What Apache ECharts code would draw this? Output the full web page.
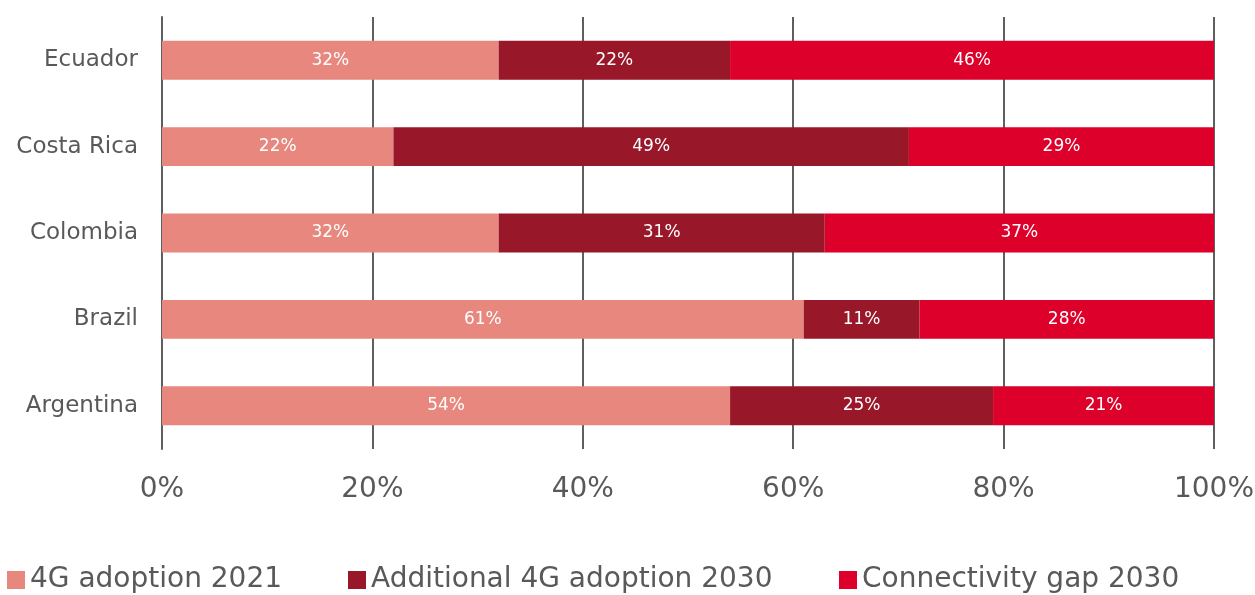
<!DOCTYPE html>
<html>
<head>
<meta charset="utf-8">
<script src="https://cdn.jsdelivr.net/npm/echarts@6/dist/echarts.min.js"></script>
<style>
  html, body { margin: 0; padding: 0; background: #ffffff; }
  #chart { width: 1255px; height: 595px; }
</style>
</head>
<body>
<div id="chart"></div>
<script>
// Countries, top to bottom
const countries = ['Ecuador', 'Costa Rica', 'Colombia', 'Brazil', 'Argentina'];
// Shares of population (%)
const adoption2021 = [32, 22, 32, 61, 54];
const additional2030 = [22, 49, 31, 11, 25];
const gap2030 = [46, 29, 37, 28, 21];
const seriesNames = ['4G adoption 2021', 'Additional 4G adoption 2030', 'Connectivity gap 2030'];
const xTicks = [0, 20, 40, 60, 80, 100];

const colors = ['#E8877D', '#98182A', '#DC002B'];
const textGray = '#595959';
const fontFamily = 'DejaVu Sans';

const chart = echarts.init(document.getElementById('chart'), null, { renderer: 'canvas' });

function barSeries(name, data, color) {
  return {
    name: name,
    type: 'bar',
    stack: 'total',
    data: data,
    barCategoryGap: '55%',
    itemStyle: { color: color },
    label: {
      show: true,
      position: 'inside',
      color: '#ffffff',
      fontFamily: fontFamily,
      fontSize: 17,
      formatter: p => p.value + '%'
    },
    emphasis: { disabled: true }
  };
}

function legendAt(name, left) {
  return {
    data: [name],
    left: left,
    top: 566,
    icon: 'rect',
    itemWidth: 18,
    itemHeight: 18,
    itemGap: 0,
    padding: 0,
    textStyle: { color: textGray, fontFamily: fontFamily, fontSize: 28 },
    selectedMode: false
  };
}

chart.setOption({
  animation: false,
  color: colors,
  grid: { left: 162, right: 41, top: 17, bottom: 146, containLabel: false, outerBoundsMode: 'none' },
  xAxis: {
    type: 'value',
    min: xTicks[0],
    max: xTicks[xTicks.length - 1],
    interval: 20,
    axisLine: { show: false },
    axisTick: { show: false },
    splitLine: { show: true, lineStyle: { color: '#5f5f5f', width: 2 } },
    axisLabel: {
      color: textGray,
      fontFamily: fontFamily,
      fontSize: 28,
      margin: 27,
      formatter: v => v + '%'
    }
  },
  yAxis: {
    type: 'category',
    data: countries,
    inverse: true,
    axisLine: { show: true, lineStyle: { color: '#5f5f5f', width: 2 } },
    axisTick: { show: false },
    axisLabel: {
      color: textGray,
      fontFamily: fontFamily,
      fontSize: 23,
      margin: 24
    }
  },
  legend: [
    legendAt(seriesNames[0], 7),
    legendAt(seriesNames[1], 348),
    legendAt(seriesNames[2], 839)
  ],
  series: [
    barSeries(seriesNames[0], adoption2021, colors[0]),
    barSeries(seriesNames[1], additional2030, colors[1]),
    barSeries(seriesNames[2], gap2030, colors[2])
  ]
});
</script>
</body>
</html>
